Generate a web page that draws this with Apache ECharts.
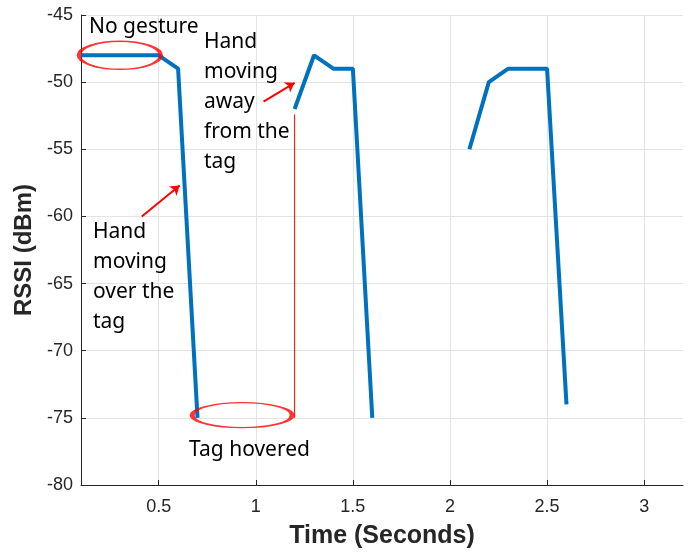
<!DOCTYPE html>
<html>
<head>
<meta charset="utf-8">
<script src="https://cdn.jsdelivr.net/npm/echarts@6/dist/echarts.min.js"></script>
<style>
  html, body { margin: 0; padding: 0; background: #fff; }
  #chart { width: 689px; height: 554px; }
</style>
</head>
<body>
<div id="chart"></div>
<script>
// RSSI trace, one sample every 0.1 s, null = no reading (gap in the line)
const times = [0.1, 0.2, 0.3, 0.4, 0.5, 0.6, 0.7, 0.8, 0.9, 1.0, 1.1, 1.2, 1.3,
  1.4, 1.5, 1.6, 1.7, 1.8, 1.9, 2.0, 2.1, 2.2, 2.3, 2.4, 2.5, 2.6]
const rssi = [-48, -48, -48, -48, -48, -49, -75, null, null, null, null, -52, -48,
  -49, -49, -75, null, null, null, null, -55, -50, -49, -49, -49, -74]
const xTicks = [0.5, 1, 1.5, 2, 2.5, 3]

// annotation marks (data coords)
const ellipseCenters = [[0.3, -48], [0.93, -74.8]]
const hoverLine = [[1.2, -52.4], [1.2, -75]]
const arrows = [
  [[0.413, -60], [0.608, -57.7]],
  [[1.04, -51.45], [1.2, -50.05]],
]
const notes = [
  { text: 'No gesture', left: 89, top: 12 },
  { text: 'Hand\nmoving\naway\nfrom the\ntag', left: 204, top: 27 },
  { text: 'Hand\nmoving\nover the\ntag', left: 93, top: 217 },
  { text: 'Tag hovered', left: 189, top: 435 },
]

const red = '#ff0000'
const axisColor = '#262626'
const chart = echarts.init(document.getElementById('chart'))

chart.setOption({
  animation: false,
  grid: { left: 81, right: 6, top: 15, bottom: 67 },
  xAxis: {
    type: 'value',
    min: 0.1,
    max: 3.2,
    name: 'Time (Seconds)',
    nameLocation: 'middle',
    nameGap: 39,
    nameTextStyle: { fontFamily: 'Liberation Sans', fontWeight: 'bold', fontSize: 25, color: axisColor },
    axisLine: { lineStyle: { color: axisColor, width: 1 } },
    axisTick: { inside: true, length: 5, customValues: xTicks, lineStyle: { color: axisColor } },
    axisLabel: {
      customValues: xTicks,
      margin: 13,
      fontFamily: 'Liberation Sans',
      fontSize: 18,
      color: axisColor,
    },
    splitLine: { show: true, lineStyle: { color: '#e3e3e3', width: 1 } },
  },
  yAxis: {
    type: 'value',
    min: -80,
    max: -45,
    interval: 5,
    name: 'RSSI (dBm)',
    nameLocation: 'middle',
    nameGap: 40,
    nameTextStyle: { fontFamily: 'Liberation Sans', fontWeight: 'bold', fontSize: 24, color: axisColor },
    axisLine: { show: true, lineStyle: { color: axisColor, width: 1 } },
    axisTick: { show: true, inside: true, length: 5, lineStyle: { color: axisColor } },
    axisLabel: { margin: 8, fontFamily: 'Liberation Sans', fontSize: 18, color: axisColor },
    splitLine: { show: true, lineStyle: { color: '#e3e3e3', width: 1 } },
  },
  series: [
    {
      type: 'line',
      data: times.map((t, i) => [t, rssi[i] === null ? '-' : rssi[i]]),
      connectNulls: false,
      showSymbol: false,
      lineStyle: { color: '#0072BD', width: 4 },
      z: 3,
    },
    {
      type: 'line',
      data: hoverLine,
      showSymbol: false,
      lineStyle: { color: red, width: 1 },
      z: 2,
    },
    {
      type: 'scatter',
      data: ellipseCenters,
      symbol: 'circle',
      symbolSize: (v, p) => (p.dataIndex === 0 ? [82, 28] : [100, 25]),
      itemStyle: { color: 'rgba(0,0,0,0)', borderColor: red, borderWidth: 2.5 },
      z: 4,
    },
    {
      type: 'lines',
      coordinateSystem: 'cartesian2d',
      data: arrows.map(a => ({ coords: a })),
      symbol: ['none', 'arrow'],
      symbolSize: 9,
      lineStyle: { color: red, width: 2, opacity: 1 },
      z: 4,
    },
  ],
  graphic: notes.map(n => ({
    type: 'text',
    left: n.left,
    top: n.top,
    style: {
      text: n.text,
      font: '21px "Noto Sans"',
      lineHeight: 30,
      fill: '#000',
    },
    z: 10,
  })),
})
</script>
</body>
</html>
